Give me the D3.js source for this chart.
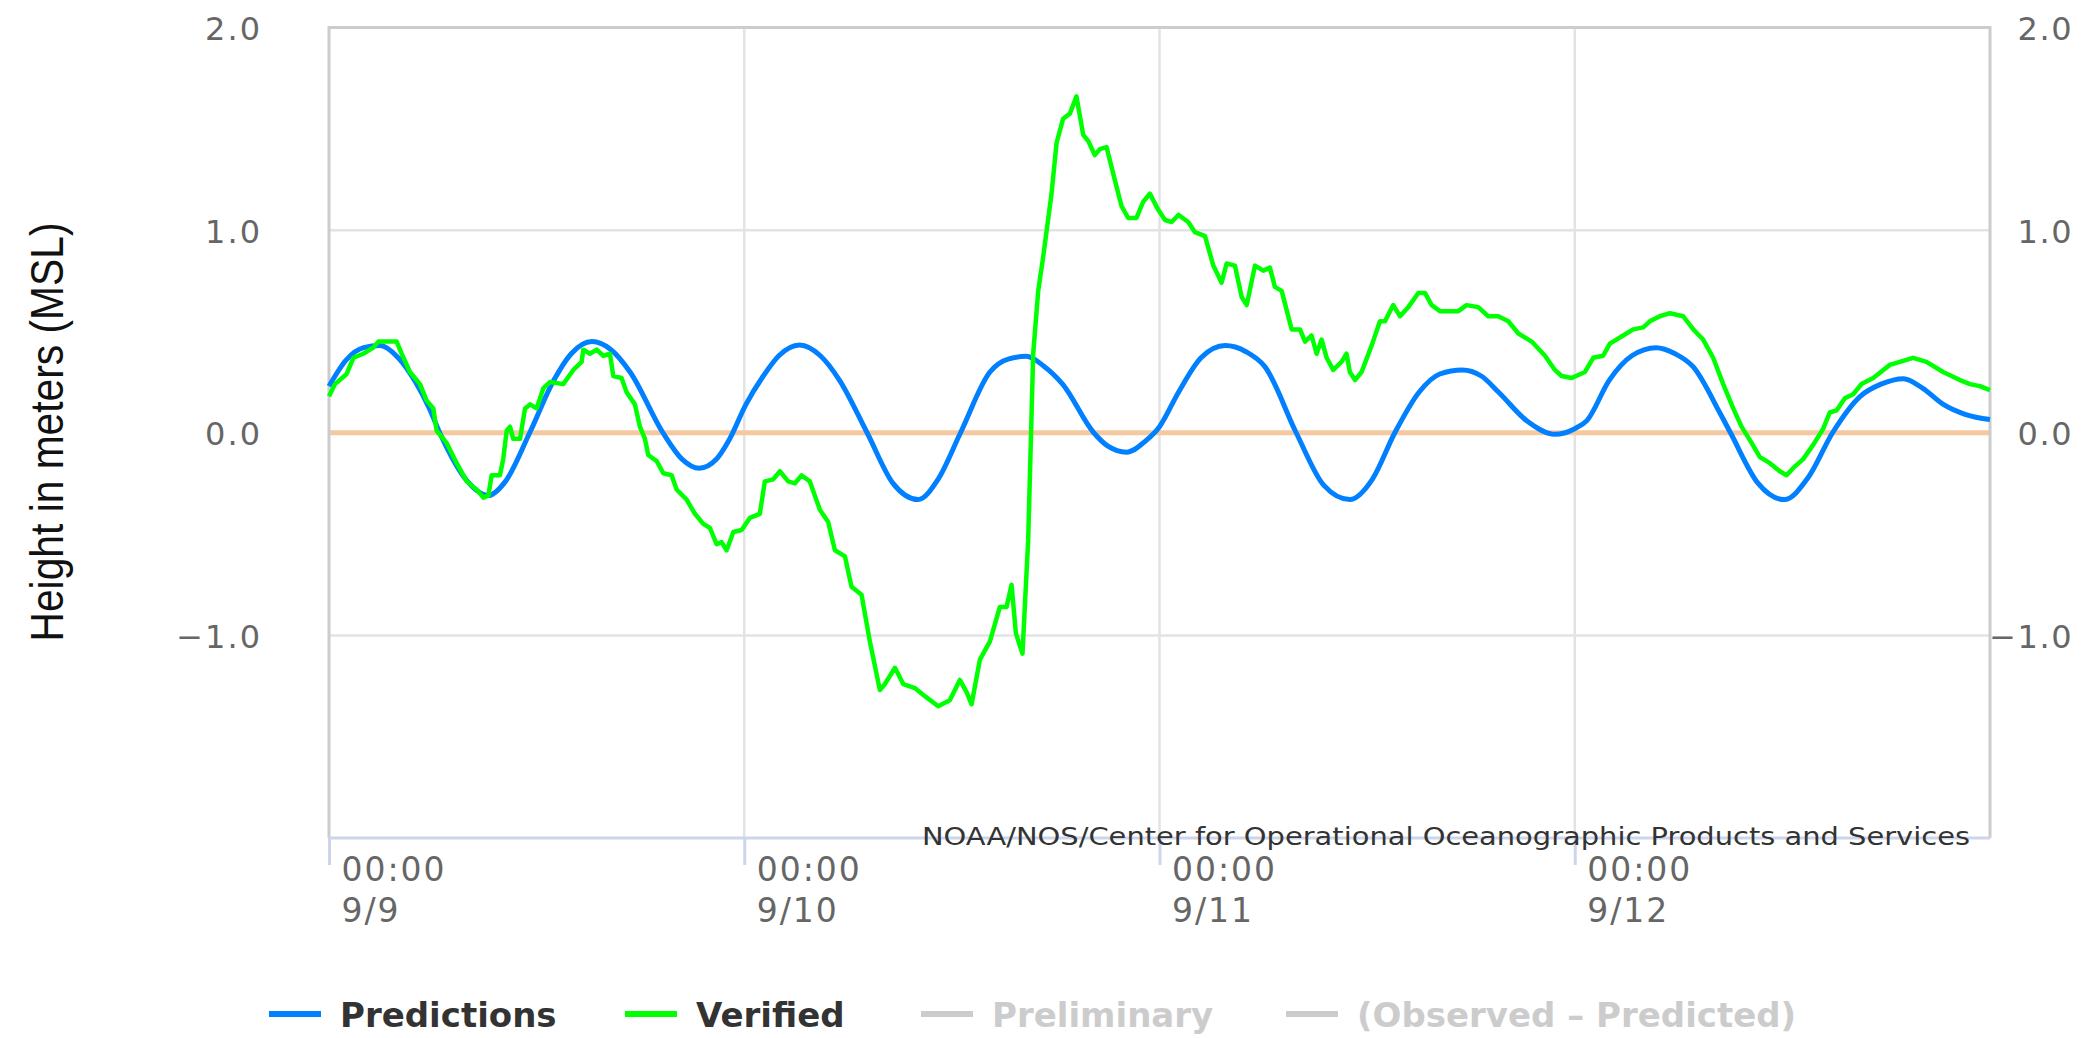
<!DOCTYPE html>
<html><head><meta charset="utf-8">
<script src="https://cdn.jsdelivr.net/npm/d3@7"></script>
<style>html,body{margin:0;padding:0;background:#fff;} svg{display:block;}</style>
</head><body>
<svg id="chart" width="2087" height="1038"></svg>
<script>
// ---------- data ----------
const dayLabels = ["9/9", "9/10", "9/11", "9/12"];
const timeLabel = "00:00";
const tickHours = [0, 24, 48, 72];
const yTicks = [2, 1, 0, -1];
const seriesNames = ["Predictions", "Verified", "Preliminary", "(Observed \u2013 Predicted)"];
const seriesColors = ["#0080ff", "#00ff00", "#cccccc", "#cccccc"];
const seriesActive = [true, true, false, false];
const creditText = "NOAA/NOS/Center for Operational Oceanographic Products and Services";
const yTitle = "Height in meters (MSL)";

const predHours = [0,1,2,2.95,4,5,5.8,6.4,8,9.2,10.2,11.6,13,14,15.2,16.3,17.4,19.3,20.4,21.4,22.4,23.1,24.1,25.1,26,27.2,28.4,29.5,31.1,32.6,34.05,35.2,36.5,38.2,39.3,40.3,41.3,42.4,44.2,45,46.1,47.2,48,49.1,50.4,51.8,53,54.1,55.9,57.5,59,60.3,61.6,63,64.2,65.5,66.6,67.6,69.3,70.85,72,72.7,74,75.3,76.7,77.8,78.85,80.4,81,82.6,84.1,85.5,86.9,88.5,89.7,91,92.1,93.3,94.6,96];
const predValues = [0.23,0.36,0.42,0.43,0.37,0.25,0.12,0.0,-0.24,-0.31,-0.24,0.0,0.26,0.39,0.45,0.41,0.30,0.0,-0.13,-0.175,-0.13,-0.04,0.14,0.28,0.38,0.433,0.38,0.26,0.0,-0.25,-0.33,-0.23,0.0,0.30,0.365,0.377,0.33,0.24,0.0,-0.065,-0.096,-0.04,0.03,0.2,0.37,0.43,0.40,0.325,0.0,-0.26,-0.33,-0.23,0.0,0.20,0.29,0.31,0.28,0.2,0.054,-0.008,0.02,0.06,0.26,0.38,0.42,0.39,0.325,0.096,0.0,-0.25,-0.33,-0.22,0.0,0.18,0.24,0.267,0.22,0.14,0.09,0.065];

const verHours = [0,0.35,1.02,1.41,1.98,2.56,2.85,3.33,3.91,4.2,4.68,5.26,5.64,6.03,6.22,6.8,7.38,7.96,8.53,8.92,9.21,9.4,9.88,10.07,10.27,10.46,10.65,11.04,11.33,11.62,12.0,12.39,12.77,13.54,14.12,14.6,14.7,15.08,15.47,15.85,16.24,16.43,16.91,17.2,17.68,17.97,18.26,18.45,18.94,19.32,19.8,20.09,20.67,21.15,21.63,22.02,22.4,22.69,22.98,23.37,23.85,24.33,24.9,25.19,25.67,26.06,26.54,26.93,27.31,27.79,28.37,28.85,29.24,29.82,30.2,30.78,31.26,31.84,32.13,32.71,33.19,33.86,34.44,35.21,35.88,36.46,36.85,37.14,37.62,38.2,38.77,39.16,39.45,39.7,40.08,40.41,40.7,40.99,41.28,41.76,42.05,42.43,42.82,43.2,43.59,43.88,44.26,44.55,44.94,45.32,45.8,46.19,46.67,47.06,47.44,47.93,48.32,48.7,49.09,49.66,50.05,50.63,51.11,51.59,51.88,52.36,52.75,53.04,53.52,54.0,54.38,54.67,55.06,55.64,56.12,56.41,56.79,57.08,57.37,57.66,58.04,58.52,58.81,59.0,59.3,59.68,60.26,60.74,61.03,61.51,61.9,62.38,62.96,63.34,63.73,64.21,64.69,65.27,65.75,66.42,67.0,67.58,68.16,68.74,69.51,70.28,70.85,71.24,71.82,72.59,73.07,73.64,74.03,74.8,75.38,75.96,76.34,76.92,77.5,78.27,78.85,79.42,80.0,80.58,81.16,81.64,82.22,82.7,83.28,83.85,84.24,84.62,85.2,85.78,86.36,86.74,87.13,87.61,88.09,88.57,89.25,90.21,90.79,91.56,92.33,93.29,94.26,94.84,95.41,96];
const verValues = [0.18,0.24,0.29,0.37,0.39,0.42,0.45,0.45,0.45,0.39,0.30,0.24,0.16,0.12,0.01,-0.05,-0.15,-0.24,-0.28,-0.32,-0.31,-0.21,-0.21,-0.13,0.01,0.03,-0.03,-0.03,0.12,0.14,0.12,0.22,0.25,0.24,0.31,0.35,0.41,0.39,0.41,0.38,0.39,0.28,0.27,0.2,0.14,0.03,-0.03,-0.11,-0.14,-0.2,-0.21,-0.28,-0.33,-0.40,-0.45,-0.47,-0.55,-0.54,-0.58,-0.49,-0.48,-0.42,-0.40,-0.24,-0.23,-0.19,-0.24,-0.25,-0.21,-0.24,-0.38,-0.44,-0.58,-0.61,-0.76,-0.80,-1.03,-1.27,-1.24,-1.16,-1.24,-1.26,-1.30,-1.35,-1.32,-1.22,-1.28,-1.34,-1.12,-1.03,-0.86,-0.86,-0.75,-0.99,-1.09,-0.53,0.39,0.70,0.87,1.18,1.43,1.55,1.575,1.66,1.47,1.44,1.37,1.40,1.41,1.28,1.12,1.06,1.06,1.14,1.18,1.10,1.05,1.04,1.075,1.04,0.99,0.97,0.825,0.74,0.835,0.825,0.67,0.63,0.825,0.80,0.815,0.72,0.70,0.51,0.51,0.45,0.48,0.39,0.46,0.37,0.31,0.35,0.39,0.30,0.26,0.30,0.43,0.55,0.55,0.63,0.575,0.62,0.69,0.69,0.63,0.60,0.60,0.60,0.63,0.62,0.575,0.575,0.55,0.49,0.45,0.38,0.31,0.28,0.27,0.30,0.37,0.38,0.44,0.48,0.51,0.52,0.55,0.575,0.59,0.575,0.51,0.46,0.37,0.24,0.12,0.03,-0.05,-0.12,-0.15,-0.19,-0.21,-0.175,-0.13,-0.06,0.02,0.10,0.11,0.17,0.19,0.24,0.27,0.335,0.35,0.37,0.35,0.30,0.26,0.24,0.23,0.21];

// ---------- layout ----------
const svg = d3.select("#chart");
const L = 329, R = 1990, T = 27.5, B = 838;
const x = d3.scaleLinear().domain([0, 96]).range([L, R]);
const y = d3.scaleLinear().domain([-2, 2]).range([B, T]);
const fmtY = d => (d < 0 ? "\u2212" : "") + Math.abs(d).toFixed(1);
const labelFont = "'DejaVu Sans', Verdana, sans-serif";

// gridlines
svg.append("g").selectAll("line.vg").data(tickHours.slice(1)).join("line")
  .attr("x1", d => x(d)).attr("x2", d => x(d)).attr("y1", T).attr("y2", B)
  .attr("stroke", "#e3e3e3").attr("stroke-width", 2.5);
svg.append("g").selectAll("line.hg").data(yTicks.filter(d => d !== 2 && d !== 0)).join("line")
  .attr("x1", L).attr("x2", R).attr("y1", d => y(d)).attr("y2", d => y(d))
  .attr("stroke", "#e3e3e3").attr("stroke-width", 2.5);

// zero line
svg.append("line").attr("x1", L).attr("x2", R).attr("y1", y(0)).attr("y2", y(0))
  .attr("stroke", "#f6c8a0").attr("stroke-width", 5);

// plot borders
svg.append("line").attr("x1", L).attr("x2", R).attr("y1", T).attr("y2", T).attr("stroke", "#cccccc").attr("stroke-width", 3);
svg.append("line").attr("x1", L).attr("x2", L).attr("y1", T - 1.5).attr("y2", B).attr("stroke", "#cccccc").attr("stroke-width", 3);
svg.append("line").attr("x1", R).attr("x2", R).attr("y1", T - 1.5).attr("y2", B).attr("stroke", "#cccccc").attr("stroke-width", 3);

// series lines
const predLine = d3.line().x((d, i) => x(predHours[i])).y(d => y(d)).curve(d3.curveMonotoneX);
svg.append("path").attr("d", predLine(predValues)).attr("fill", "none")
  .attr("stroke", seriesColors[0]).attr("stroke-width", 5).attr("stroke-linejoin", "round");
const verLine = d3.line().x((d, i) => x(verHours[i])).y(d => y(d));
svg.append("path").attr("d", verLine(verValues)).attr("fill", "none")
  .attr("stroke", seriesColors[1]).attr("stroke-width", 4.5).attr("stroke-linejoin", "round");

// left axis
const axL = svg.append("g").attr("transform", `translate(${L},0)`)
  .call(d3.axisLeft(y).tickValues(yTicks).tickSize(0).tickPadding(67).tickFormat(fmtY));
axL.select(".domain").remove();
axL.selectAll("text").attr("font-family", labelFont).attr("font-size", 32).attr("fill", "#666")
  .attr("letter-spacing", 2).attr("dy", null).attr("y", 12);

// right axis
const axR = svg.append("g").attr("transform", `translate(${R},0)`)
  .call(d3.axisRight(y).tickValues(yTicks).tickSize(0).tickPadding(83).tickFormat(fmtY));
axR.select(".domain").remove();
axR.selectAll("text").attr("font-family", labelFont).attr("font-size", 32).attr("fill", "#666")
  .attr("letter-spacing", 1.5).attr("text-anchor", "end").attr("dy", null).attr("y", 12);

// bottom axis
const axB = svg.append("g").attr("transform", `translate(0,${B})`)
  .call(d3.axisBottom(x).tickValues(tickHours).tickSize(27).tickFormat(() => ""));
axB.select(".domain").attr("stroke", "#ccd6eb").attr("stroke-width", 3)
  .attr("d", `M${L},0H${R}`);
axB.selectAll(".tick line").attr("stroke", "#ccd6eb").attr("stroke-width", 3);
axB.selectAll(".tick text").each(function(d, i) {
  const t = d3.select(this).attr("y", 0).attr("dy", null).attr("x", 12)
    .attr("text-anchor", "start").attr("font-family", labelFont).attr("font-size", 33)
    .attr("letter-spacing", 2).attr("fill", "#666");
  t.text(null);
  t.append("tspan").attr("x", 12).attr("y", 43).text(timeLabel);
  t.append("tspan").attr("x", 12).attr("y", 84).text(dayLabels[i]);
});

// y title
svg.append("text").attr("transform", "translate(63,432) rotate(-90)")
  .attr("text-anchor", "middle").attr("font-family", "'Liberation Sans', Arial, sans-serif")
  .attr("font-size", 46).attr("fill", "#111")
  .attr("textLength", 419).attr("lengthAdjust", "spacingAndGlyphs").text(yTitle);

// credit
svg.append("text").attr("x", 922).attr("y", 845).attr("font-family", labelFont)
  .attr("font-size", 25).attr("fill", "#333")
  .attr("textLength", 1048).attr("lengthAdjust", "spacingAndGlyphs").text(creditText);

// legend
const legendX = [269, 625, 921, 1286];
const lg = svg.append("g").selectAll("g").data(seriesNames).join("g")
  .attr("transform", (d, i) => `translate(${legendX[i]},1014)`);
lg.append("line").attr("x1", 0).attr("x2", 52).attr("y1", 0).attr("y2", 0)
  .attr("stroke", (d, i) => seriesActive[i] ? seriesColors[i] : "#cccccc").attr("stroke-width", 6);
lg.append("text").attr("x", 71).attr("y", 13).attr("font-family", "'DejaVu Sans', Verdana, sans-serif")
  .attr("font-weight", "bold").attr("font-size", 34)
  .attr("fill", (d, i) => seriesActive[i] ? "#333333" : "#cccccc").text(d => d);
</script>
</body></html>
